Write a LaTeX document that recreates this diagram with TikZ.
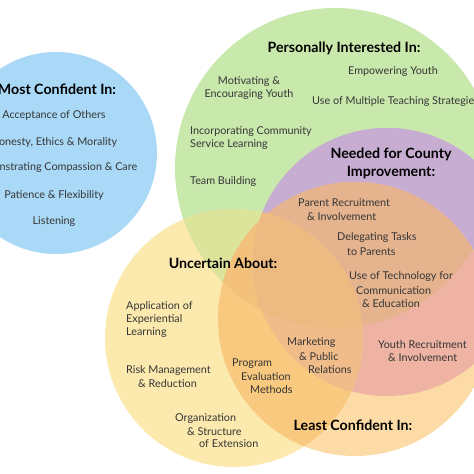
\documentclass[tikz,border=0pt]{standalone}
\usepackage{fontspec}
\setmainfont{Lato}
\definecolor{cB}{HTML}{A9D9F7}
\definecolor{cG}{HTML}{C8E8AC}
\definecolor{cY}{HTML}{FCE9AE}
\definecolor{cP}{HTML}{CBB0D6}
\definecolor{cL}{HTML}{FDDBA6}
\definecolor{cGY}{HTML}{DCE49C}
\definecolor{cGP}{HTML}{C8ADD2}
\definecolor{cGL}{HTML}{EEBE8E}
\definecolor{cYL}{HTML}{F8C97E}
\definecolor{cPL}{HTML}{EFB3A3}
\definecolor{cYP}{HTML}{F1BC8A}
\definecolor{cGYL}{HTML}{F3C17C}
\definecolor{cGPL}{HTML}{E5B48F}
\definecolor{cYPL}{HTML}{F0BC8A}
\definecolor{cGYP}{HTML}{ECB982}
\definecolor{cGYPL}{HTML}{EDBA82}
\definecolor{txt}{HTML}{363636}
\begin{document}
\begin{tikzpicture}[x=1pt,y=-1pt,
  Bc/.style={insert path={(56,153) circle[radius=101pt]}},
  Gc/.style={insert path={(335,168) circle[radius=160pt]}},
  Pc/.style={insert path={(387,262) circle[radius=134pt]}},
  Yc/.style={insert path={(234,338) circle[radius=129pt]}},
  Lc/.style={insert path={(355,319) circle[radius=137pt]}},
  all/.style={insert path={(0,0) rectangle (474,474)}},
  ttl/.style={font=\bfseries\fontsize{14.2}{16}\selectfont, text=black, inner sep=0pt},
  itm/.style={font=\fontsize{10.8}{13}\selectfont, text=txt, inner sep=0pt},
  itml/.style={itm, anchor=west},
]
\useasboundingbox (0,0) rectangle (474,474);
\clip (0,0) rectangle (474,474);
% single sets
\fill[cB,Bc];
\fill[cG,Gc];
\fill[cY,Yc];
\fill[cP,Pc];
\fill[cL,Lc];
% pairs
\begin{scope}\clip[Gc];\clip[Yc];\fill[cGY,all];\end{scope}
\begin{scope}\clip[Gc];\clip[Pc];\fill[cGP,all];\end{scope}
\begin{scope}\clip[Gc];\clip[Lc];\fill[cGL,all];\end{scope}
\begin{scope}\clip[Yc];\clip[Lc];\fill[cYL,all];\end{scope}
\begin{scope}\clip[Pc];\clip[Lc];\fill[cPL,all];\end{scope}
\begin{scope}\clip[Yc];\clip[Pc];\fill[cYP,all];\end{scope}
% triples
\begin{scope}\clip[Gc];\clip[Yc];\clip[Lc];\fill[cGYL,all];\end{scope}
\begin{scope}\clip[Gc];\clip[Pc];\clip[Lc];\fill[cGPL,all];\end{scope}
\begin{scope}\clip[Yc];\clip[Pc];\clip[Lc];\fill[cYPL,all];\end{scope}
\begin{scope}\clip[Gc];\clip[Yc];\clip[Pc];\fill[cGYP,all];\end{scope}
% quadruple
\begin{scope}\clip[Gc];\clip[Yc];\clip[Pc];\clip[Lc];\fill[cGYPL,all];\end{scope}

% Most Confident In
\node[ttl] (mct) at (57,89) {Most Confident In:};
\node[itm] (m1) at (54,115) {Acceptance of Others};
\node[itm] (m2) at (54,142) {Honesty, Ethics \& Morality};
\node[itm] (m3) at (54,168) {Demonstrating Compassion \& Care};
\node[itm] (m4) at (54,195) {Patience \& Flexibility};
\node[itm] (m5) at (54,222) {Listening};

% Personally Interested In
\node[ttl] (pit) at (344,48) {Personally Interested In:};
\node[itm] (p1a) at (249,82) {Motivating \&};
\node[itm] (p1b) at (249,95) {Encouraging Youth};
\node[itm] (p2) at (393,72) {Empowering Youth};
\node[itml] (p3) at (312,102) {Use of Multiple Teaching Strategies};
\node[itml] (p4a) at (190,132) {Incorporating Community};
\node[itml] (p4b) at (190,145) {Service Learning};
\node[itml] (p5) at (190,182) {Team Building};

% Needed for County Improvement
\node[ttl] (nct1) at (391,154) {Needed for County};
\node[ttl] (nct2) at (391,173) {Improvement:};
\node[itml] (n1a) at (298,203) {Parent Recruitment};
\node[itml] (n1b) at (307,217) {\& Involvement};
\node[itml] (n2a) at (337,238) {Delegating Tasks};
\node[itml] (n2b) at (347,252) {to Parents};
\node[itml] (n3a) at (349,277) {Use of Technology for};
\node[itml] (n3b) at (356,291) {Communication};
\node[itml] (n3c) at (362,304) {\& Education};

% Uncertain About
\node[ttl] (uat) at (223,263) {Uncertain About:};
\node[itml] (u1a) at (126,306) {Application of};
\node[itml] (u1b) at (126,319) {Experiential};
\node[itml] (u1c) at (126,333) {Learning};
\node[itml] (u2a) at (126,371) {Risk Management};
\node[itml] (u2b) at (138,384) {\& Reduction};
\node[itml] (u3a) at (175,419) {Organization};
\node[itml] (u3b) at (187,432) {\& Structure};
\node[itml] (u3c) at (199,444) {of Extension};
\node[itml] (u4a) at (232,364) {Program};
\node[itml] (u4b) at (241,377) {Evaluation};
\node[itml] (u4c) at (250,390) {Methods};

% Least Confident In
\node[itml] (l1a) at (287,343) {Marketing};
\node[itml] (l1b) at (299,357) {\& Public};
\node[itml] (l1c) at (308,370) {Relations};
\node[itml] (l2a) at (378,345) {Youth Recruitment};
\node[itml] (l2b) at (388,358) {\& Involvement};
\node[ttl] (lct) at (353,425) {Least Confident In:};
\end{tikzpicture}
\end{document}
